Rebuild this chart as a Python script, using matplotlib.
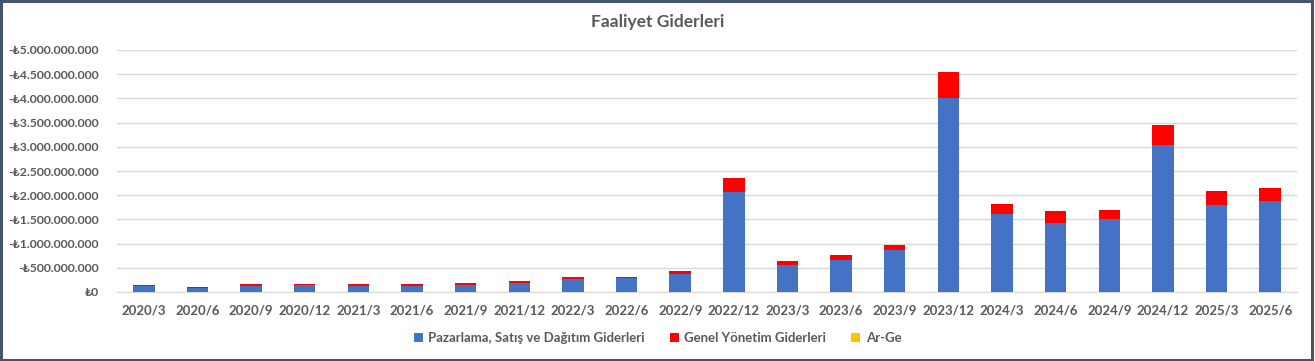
import matplotlib
matplotlib.use("Agg")
import matplotlib.pyplot as plt
from matplotlib.patches import Rectangle
from matplotlib.ticker import FuncFormatter
import numpy as np

categories = ["2020/3", "2020/6", "2020/9", "2020/12", "2021/3", "2021/6", "2021/9",
              "2021/12", "2022/3", "2022/6", "2022/9", "2022/12", "2023/3", "2023/6",
              "2023/9", "2023/12", "2024/3", "2024/6", "2024/9", "2024/12", "2025/3", "2025/6"]
pazarlama = [-125e6, -90e6, -130e6, -140e6, -130e6, -130e6, -150e6,
             -190e6, -270e6, -280e6, -380e6, -2070e6, -550e6, -660e6,
             -860e6, -4010e6, -1620e6, -1430e6, -1510e6, -3040e6, -1800e6, -1880e6]
genel = [-20e6, -15e6, -25e6, -30e6, -25e6, -25e6, -30e6,
         -30e6, -40e6, -40e6, -50e6, -285e6, -90e6, -100e6,
         -110e6, -535e6, -205e6, -250e6, -185e6, -410e6, -290e6, -275e6]
arge = [0.0] * len(categories)
series_names = ["Pazarlama, Satış ve Dağıtım Giderleri", "Genel Yönetim Giderleri", "Ar-Ge"]
title = "Faaliyet Giderleri"

FONT = ["Lato", "DejaVu Sans"]
plt.rcParams["font.family"] = FONT
TXT = "#595959"

fig = plt.figure(figsize=(13.15, 3.61), dpi=100)
ax = fig.add_axes([117 / 1315, (361 - 292) / 361, (1297 - 117) / 1315, (292 - 50) / 361])

x = np.arange(len(categories))
w = 0.4
p = np.array(pazarlama)
g = np.array(genel)
a = np.array(arge)
ax.bar(x, p, w, color="#4472C4", label=series_names[0], zorder=3)
ax.bar(x, g, w, bottom=p, color="#FF0000", label=series_names[1], zorder=3)
ax.bar(x, a, w, bottom=p + g, color="#FFC000", label=series_names[2], zorder=3)

ax.set_ylim(0, -5e9)
ax.set_yticks(np.arange(0, -5.01e9, -5e8))
ax.set_xlim(-0.5, len(categories) - 0.5)

def fmt(v, pos):
    v = int(round(v))
    if v == 0:
        return "₺0"
    s = f"{abs(v):,}".replace(",", ".")
    return ("-" if v < 0 else "") + "₺" + s

ax.yaxis.set_major_formatter(FuncFormatter(fmt))
ax.set_xticks(x)
ax.set_xticklabels(categories)
ax.tick_params(axis="x", length=0, labelsize=9.5, labelcolor=TXT, pad=9)
ax.tick_params(axis="y", length=0, labelsize=8.8, labelcolor=TXT, pad=13)
for lab in ax.get_xticklabels() + ax.get_yticklabels():
    lab.set_fontweight("bold")
ax.grid(axis="y", color="#D9D9D9", linewidth=1, zorder=0)
for s in ["top", "right", "left"]:
    ax.spines[s].set_visible(False)
ax.spines["bottom"].set_color("#D9D9D9")

fig.text(0.5, 1 - 22 / 361, title, ha="center", va="center", fontsize=12.5,
         fontweight="bold", color=TXT)

leg = fig.legend(loc="center", bbox_to_anchor=(0.5, 1 - 338 / 361), ncol=3, frameon=False,
                 fontsize=9.5, handlelength=0.7, handleheight=0.7, handletextpad=0.4,
                 columnspacing=1.9)
for t in leg.get_texts():
    t.set_color(TXT)
    t.set_fontweight("bold")

fig.patches.append(Rectangle((0.001, 0.003), 0.997, 0.994, transform=fig.transFigure,
                             fill=False, edgecolor="#44546A", linewidth=2.2))

fig.savefig("out.png", dpi=100)
